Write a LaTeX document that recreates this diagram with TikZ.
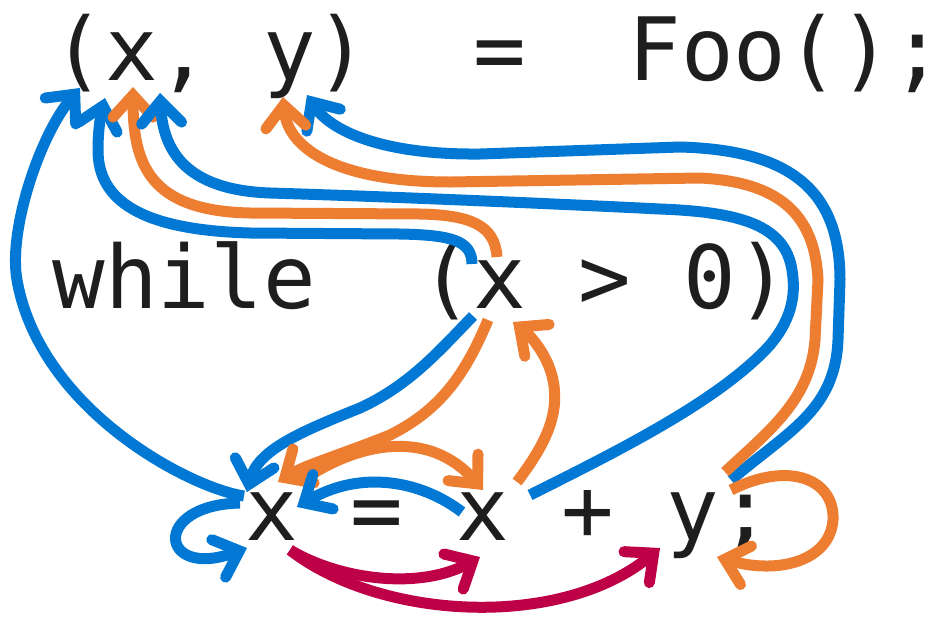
\documentclass[tikz,border=0pt]{standalone}
\usepackage{fontspec}
\newfontfamily\codefont{DejaVu Sans Mono}
\usetikzlibrary{arrows.meta,calc}
\definecolor{cblue}{HTML}{0078D4}
\definecolor{corange}{HTML}{ED7D31}
\definecolor{cred}{HTML}{BE0046}
\definecolor{ink}{HTML}{1E1E1E}
\begin{document}
\begin{tikzpicture}[x=1pt,y=-1pt,
  ch/.style={inner sep=0pt, outer sep=0pt, anchor=base, text=ink, font=\codefont\fontsize{87.4}{90}\selectfont},
  flow/.style={line width=11pt, -{Straight Barb[length=22pt,width=40pt,line cap=round,line join=miter]}},
  fblue/.style={flow, draw=cblue},
  forange/.style={flow, draw=corange},
  fred/.style={flow, draw=cred}]
\useasboundingbox[fill=white] (0,0) rectangle (945,619);
% line 1
\node[ch] (lp1) at (79,80) {(};
\node[ch] (x1) at (131.6,80) {x};
\node[ch] (cm1) at (184.2,80) {,};
\node[ch] (y1) at (289.4,80) {y};
\node[ch] (rp1) at (342,80) {)};
\node[ch] (eq1) at (499.8,80) {=};
\node[ch] (foo) at (786.5,80) {Foo();};
% line 2
\node[ch] (while) at (184.2,308) {while};
\node[ch] (lp2) at (447.2,308) {(};
\node[ch] (x2) at (499.8,308) {x};
\node[ch] (gt) at (605,308) {>};
\node[ch] (zero) at (736.5,308) {0)};
% line 3
\node[ch] (x3a) at (272,540) {x};
\node[ch] (eq3) at (377.2,540) {=};
\node[ch] (x3b) at (482.4,540) {x};
\node[ch] (plus) at (587.6,540) {+};
\node[ch] (y3) at (692.8,540) {y};
\node[ch] (semi) at (745.4,540) {;};
% long connectors
\draw[fblue] ($(x3a.base)+(-28,-44)$) .. controls (190,488) and (40,410) .. (17,280) .. controls (8,230) and (40,135) .. ($(x1.base)+(-51.6,8)$);
\draw[fblue] ($(x2.base)+(-27.8,-44)$) .. controls (472,240) and (450,235) .. (400,234) -- (250,233) .. controls (140,230) and (98,200) .. (98,150) .. controls (98,125) and (102,110) .. ($(x1.base)+(-26.6,18)$);
\draw[forange] ($(x2.base)+(-2.8,-51)$) .. controls (495,225) and (470,215) .. (420,214) -- (250,213) .. controls (150,211) and (133,165) .. ($(x1.base)+(1.4,7)$);
\draw[fblue] ($(x3b.base)+(47.6,-45)$) .. controls (620,450) and (720,400) .. (770,345) .. controls (795,315) and (795,290) .. (792,270) .. controls (785,225) and (740,212) .. (660,209) .. controls (560,204) and (400,197) .. (270,193) .. controls (185,190) and (163,150) .. ($(x1.base)+(28.4,13)$);
\draw[fblue] ($(semi.base)+(-14.4,-60)$) .. controls (790,430) and (835,410) .. (838,340) -- (840,280) .. controls (840,190) and (790,150) .. (680,147) -- (480,154) .. controls (380,155) and (330,130) .. ($(y1.base)+(17.6,15)$);
\draw[forange] ($(semi.base)+(-20.4,-68)$) .. controls (770,430) and (810,400) .. (815,340) -- (818,280) .. controls (815,215) and (780,182) .. (700,178) -- (450,182) .. controls (340,182) and (288,150) .. ($(y1.base)+(-6.4,17)$);
% short connectors
\draw[forange] ($(x3b.base)+(34.6,-58)$) .. controls (545,445) and (560,415) .. (553,380) .. controls (548,355) and (530,335) .. ($(x2.base)+(13.2,14)$);
\draw[fblue] ($(x2.base)+(-26.8,8)$) .. controls (440,350) and (410,385) .. (360,408) .. controls (300,432) and (258,450) .. ($(x3a.base)+(-25,-48)$);
\draw[forange] ($(x2.base)+(-11.8,12)$) .. controls (465,375) and (440,410) .. (390,435) .. controls (340,455) and (305,465) .. ($(x3a.base)+(6,-58)$);
\draw[forange] ($(x3a.base)+(28,-58)$) .. controls (360,440) and (430,430) .. ($(x3b.base)+(0.6,-50)$);
\draw[fblue] ($(x3b.base)+(-20.4,-28)$) .. controls (420,480) and (360,470) .. ($(x3a.base)+(25,-33)$);
\draw[fblue] ($(x3a.base)+(-32,-37)$) .. controls (150,505) and (160,580) .. ($(x3a.base)+(-25,8)$);
\draw[forange] ($(semi.base)+(-14.4,-50)$) .. controls (790,460) and (835,480) .. (833,520) .. controls (830,560) and (780,575) .. ($(semi.base)+(-28.4,17)$);
\draw[fred] ($(x3a.base)+(18,10)$) .. controls (340,580) and (420,590) .. ($(x3b.base)+(-2.4,17)$);
\draw[fred] ($(x3a.base)+(18,10)$) .. controls (380,620) and (560,630) .. ($(y3.base)+(-32.8,8)$);
\end{tikzpicture}
\end{document}
